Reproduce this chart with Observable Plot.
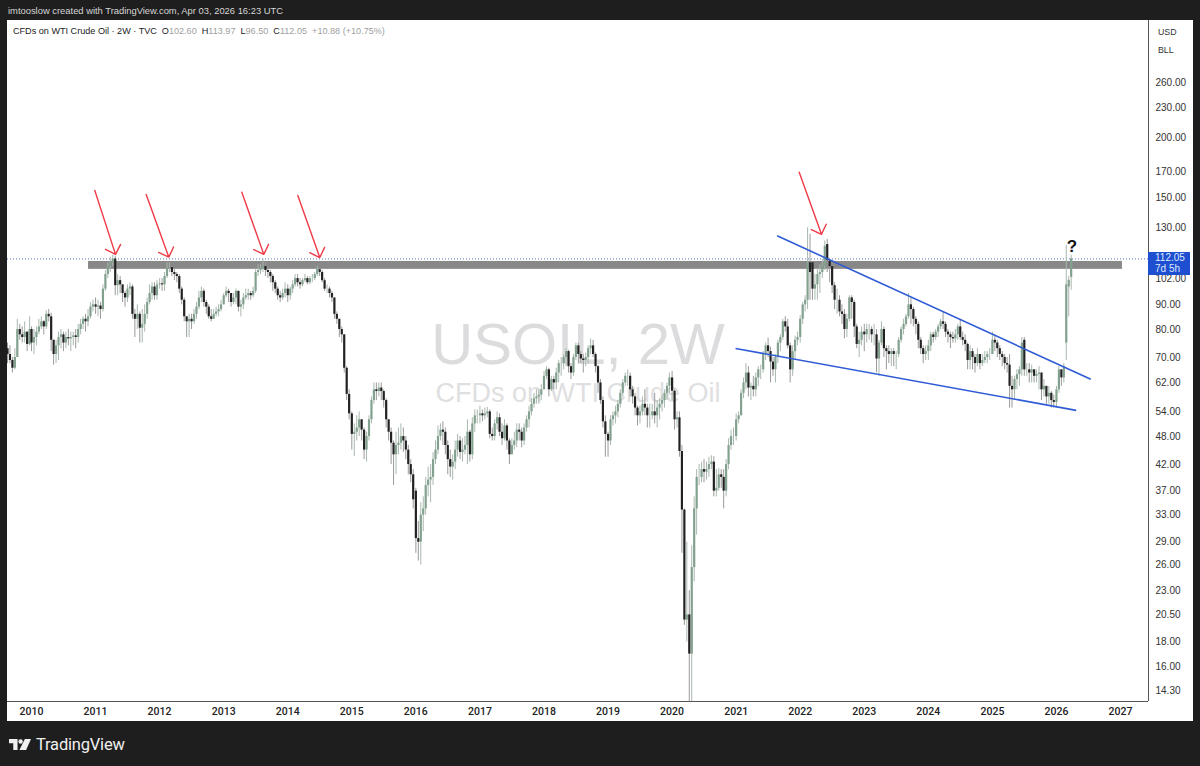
<!DOCTYPE html>
<html><head><meta charset="utf-8">
<script src="https://cdn.jsdelivr.net/npm/d3@7"></script>
<script src="https://cdn.jsdelivr.net/npm/@observablehq/plot@0.6"></script>
<style>
html,body{margin:0;padding:0;background:#1e1e1e;width:1200px;height:766px;overflow:hidden;font-family:"Liberation Sans",sans-serif}
#top{position:absolute;left:8px;top:4px;color:#d6d6d6;font-size:9.4px;line-height:14px;white-space:nowrap}
#chart{position:absolute;left:7px;top:20px;background:#fff}
#legend{position:absolute;left:13px;top:25px;font-size:9.1px;line-height:13px;color:#222;white-space:nowrap}
#legend b{font-weight:400;color:#222;margin-left:5px}#legend i{font-style:normal;color:#a0a0a0}
#unit{position:absolute;left:1158px;top:23px;font-size:8.8px;line-height:18px;color:#333}
#last{position:absolute;left:1148px;width:42px;height:23px;background:#1d4fd0;color:#dfe8ff;font-size:10px;line-height:11px;text-align:left;padding-left:7px;box-sizing:border-box}
#logo{position:absolute;left:9px;top:735px;display:flex;align-items:center;color:#f0f0f0;font-family:Roboto,sans-serif;font-size:16.5px;letter-spacing:-.2px}
</style></head><body>
<div id="top">imtooslow created with TradingView.com, Apr 03, 2026 16:23 UTC</div>
<div id="chart"></div>
<div id="legend">CFDs on WTI Crude Oil · 2W · TVC<b>O</b><i>102.60</i><b>H</b><i>113.97</i><b>L</b><i>96.50</i><b>C</b><i>112.05</i> &nbsp;<i>+10.88 (+10.75%)</i></div>
<div id="unit">USD<br>BLL</div>
<div id="logo"><svg width="22" height="13" viewBox="0 0 36 20" fill="#f0f0f0"><path d="M0 1h14v18H7V8H0z"/><circle cx="19" cy="5" r="3.6"/><path d="M26 1h10l-8 18H17z"/></svg><span style="margin-left:5px">TradingView</span></div>
<script>
// each candle: [close, high, low, open?] — open defaults to the previous close
const bars2009=[[71,75,68,73],[69,74,68],[66.5,70,65],[70,73,66],[80,84,70],[78,82,76],[77,81,75],[79,83,75],[74.5,79,72],[80,85,74]];
const bars2010=[[75,81,72],[77,80,71],[79,81,74],[81,84,78],[83,85,80],[81,83.5,78],[86,87.5,80],[85,88,83],[76,86.5,72],[71,76,67.5],[74,76,68],[77,79,69],[78,80,73],[75,79,72],[77,79,73],[76.5,80,74],[77,79,72],[77.6,79,74],[77,80,73],[80,82,75],[82,84,78],[84,85,80],[83,86,79],[85,88,81],[89,91,84],[90,92,87]];
const bars2011=[[89,93,86],[89.5,92,85],[88,91,84],[97,99,87],[104,106,96],[108,110,102],[110,113,105],[112,114,108],[98.6,113.5,94],[101,104,94],[99,103,95],[95,99,91],[93,96,89],[97,99,91],[98,100,94],[86,99,84],[84,88,77],[86,90,80],[80.5,87,75],[82,88,75],[86,90,79],[91,93,84],[95,99,90],[98,100,92],[94,100,92],[99,101,92]];
const bars2012=[[99.5,102,97],[99,102,96],[103,105,96],[107,110,102],[107.5,110,105],[105,108,103],[104,107,101],[103,105,100],[97,104,95],[92,98,90],[85,93,83],[83,85,77],[84,86,77],[83,86,80],[86,88,82],[89,91,84],[93,96,88],[96,98,91],[91,97,89],[89,92,86],[85,90,84],[84,88,83],[86,88,84],[87,89,85],[88,90,85],[90,92,87]];
const bars2013=[[94,95,90],[96,98,93],[95,97,91],[91,95,89],[93,95,90],[96,97,90],[89,96,87],[90,92,85],[93,95,88],[94,97,92],[95,97,92],[94,96,92],[96,98,93],[105,107,95],[106,109,103],[107,109,104],[108,112,105],[106,110,103],[105,108,102],[103,106,100],[100,104,96],[97,101,95],[94,98,92],[93,96,91],[95,97,92],[97,100,93]];
const bars2014=[[94,99,91],[97,98,92],[99,101,95],[102,104,98],[100,104,98],[99,102,97],[101,102,98],[102,104,100],[100,103,99],[102,103,99],[102,104,100],[104,105,101],[106.5,108,103],[105,107,103],[101,106,100],[97,102,96],[97,99,95],[95,98,93],[93,96,91],[86,93,84],[84,87,82],[80,84,77],[78,81,75],[66.5,78,65],[58.7,67,57],[53.5,60,52]];
const bars2015=[[48.5,54,45],[49,51,43.6],[50,53,47],[52,54,48],[49.5,52,47],[45,50,43],[48,49,42.5],[52,53,47],[57,58,51],[60,62,56],[59.5,62,57],[60.5,62,58],[59.5,62,57],[57,60,55],[52,57.5,50],[49,52,47],[46.5,50,42],[44,47,38],[46,49,40],[46.5,50,44],[48,51,45],[47,50,44.5],[45,48,43],[42,46,40],[40,43,38.5],[35.5,41,34]];
const bars2016=[[29.5,37.5,27.5,37],[29,32,26.5],[33,35,26],[34,36,30.5],[38,39.5,33],[39,41.5,36],[39.5,42,35],[43,44.5,38],[45,47,42],[48,50.5,44],[49.5,51,47],[49,51.5,46],[46,50,44],[43,47,40],[41.5,45,39.5],[42.5,44,39],[45,47,41],[47,48.5,43.5],[44.5,48,43],[45,47.5,42.5],[46,48,44],[49,52,42],[44,49.5,42.5],[51,52.5,43],[53,54.5,49],[53,54.5,51]];
const bars2017=[[53.5,55.5,51],[53,54.5,51.5],[53.5,55,52],[54,55.2,52.5],[48.5,54.5,47.5],[48,50,47],[51,52,47],[52.5,54,49.5],[49,53.5,48],[47.5,51,46],[50.5,52,47],[47,51,45],[44,47.5,42],[46,47.5,44],[47,49,45],[49.5,51,45.5],[49,51,47],[47,50,45.5],[50,51,46],[52,53,49],[54,55.5,50],[56,57.5,53],[57.5,59,55],[58,60,56],[58.5,60,56],[60,61.5,57]];
const bars2018=[[64,65.5,60],[66,67,63],[60,66.5,58],[63,64,59.5],[62,64,60],[65,66.5,60],[68,69,62],[68,70,64],[70,71,66],[72,73,67],[67,72.5,65],[65,68,63],[70,71,64],[74,75,69],[71,75,68],[69.5,72,68],[69,71,65],[70,71.5,67],[73,74,68],[74,76.5,71],[71,76,70],[67,71.5,65],[62,67.5,59],[57,63,56],[51.5,58,50],[48.5,53,43.5]];
const bars2019=[[47,49,43.5],[52,53,46],[53,54,50.5],[54,55.5,51],[56,57,52.5],[59,60,55],[62,63,58],[64,65,61],[64,66,61],[60,65,58],[58,61,56],[55,59,53],[53,55.5,50.5],[54,55.5,51],[56,58,53],[55,60,53],[53,56,50],[53,56,50],[54,56,52],[53,59,51],[55,57,50],[56,57.5,52],[57,58.5,54],[59,60,55],[61,62,57],[63.5,65,59]];
const bars2020=[[59.6,65.5,57],[52,60,49.5],[52.5,54,50],[44.7,54,43.5],[33.8,46,27.5],[20,34,19.5],[20.5,29,18],[17,23,13],[25.7,28.5,13,17],[34,36,24],[39.5,41,30],[39.5,42,38],[41,42.5,38.5],[40.5,43,38.5],[41,42.5,39],[42,43.5,39.5],[42.5,43.8,41],[37,43.6,36],[37.5,41,36],[40,41.2,37],[39.5,41,37.5],[37,41,34],[42,43,36],[46,47.5,41],[48,49.5,45],[48,50,46]];
const bars2021=[[52,53.5,47],[53,54,51],[59,60,53],[62,63.5,57.5],[65,68,60],[60.5,67,58],[61,62,57],[60,64,58],[63.5,65,58],[66,67,61],[66,67.5,63],[71,72,65],[74,75,69],[72,76.8,70],[68.5,73.5,62],[66,70,64],[70,71,62],[75,76,68],[77,78,72],[83,84,76],[81,85,79],[74,84,73],[66,75,62],[72,74,64],[76,77.5,69],[77,79,74]];
const bars2022=[[84,85.5,75],[90,91,82],[92,94,87],[110,130,88,92],[105,126,92],[97,110,92,110],[99,104,92],[104,107,92],[105,109,95],[108,112,102],[119,122,106],[111,123,105,120],[108,112,100],[98.6,111,95,108],[92,100,88],[92,97,86],[87,94,85],[86,90,82],[80,88,76.5],[84,86,77],[93,94,83],[91,94,84],[81,92,77],[74.5,82,73],[76,79,70],[79,81,74]];
const bars2023=[[78,82,72],[80,82,75],[80,82,76],[78,81,75],[78,82,74],[69.5,80,65],[75,76,64],[80,83,74],[73,81,70],[72,74,66],[71,74,68],[72,73,67],[71,73,67],[71,72,66],[76,77,70],[80,81,75],[82,84,78],[85,86,81],[90,95,84],[88,93,82],[84,89,81],[82,85,78],[76,83,73],[73,77,71],[71,74,68],[72,74,69]];
const bars2024=[[74,76,69],[78,79,72],[77,79,75],[79,80,76],[81,82,77],[83,84,80],[82,87,80],[79,83,77],[78,80,75],[77,79,73],[76.5,79,75],[78,80,75],[81,82,76],[77,84,76],[76,79,74],[74.5,78,72],[69,75,66],[72,74,66],[70,73,66],[68,71,65],[71,73,67],[68,71,66],[69,71,67],[70,72,68],[71,72,68],[71,73,69]];
const bars2025=[[76,79,71],[75,78,72],[73,76,70],[71,74,69],[70,72,67],[68,71,66],[67.5,70,65],[61,71,55],[60,64,55],[63,64,57],[64.5,66,60],[66,67,61],[75,77,64],[66,77,64,76],[66,68,64],[65,68,62],[66,67.5,62],[64,66,62],[64.5,66,62],[65,67,60],[60,65,57],[61,63,58],[58,61,56],[59,61,56],[57,59.5,55],[56.5,58.5,55]];
const bars2026=[[60,61,55],[66,67,59],[63.5,66,61],[67,68,62],[99,119.5,69,75],[101.17,103,85,98],[112.05,113.97,96.5,102.6]];
const yearBars=[[2009.625,bars2009],[2010,bars2010],[2011,bars2011],[2012,bars2012],[2013,bars2013],[2014,bars2014],[2015,bars2015],[2016,bars2016],[2017,bars2017],[2018,bars2018],[2019,bars2019],[2020,bars2020],[2021,bars2021],[2022,bars2022],[2023,bars2023],[2024,bars2024],[2025,bars2025],[2026,bars2026]];
const yearTicks=[2010,2011,2012,2013,2014,2015,2016,2017,2018,2019,2020,2021,2022,2023,2024,2025,2026,2027];
const priceTicks=[260,230,200,170,150,130,102,90,80,70,62,54,48,42,37,33,29,26,23,20.5,18,16,14.3];
// [year, price, year, price]
const redArrows=[[2010.988,155.3,2011.311,114.5],[2011.79,152.4,2012.143,113],[2013.283,154,2013.626,114.5],[2014.157,151.7,2014.5,112.8],[2021.984,169.5,2022.332,126]];
const trendLines=[[2021.64,125.1,2026.536,63.1],[2020.99,73.1,2026.308,54.4]];
const zone={from:2010.89,to:2027.03,low:106.6,high:110.7};
const lastPrice=112.05;

const DAY=864e5, BASE=Date.UTC(2010,0,1);
const yr=y=>new Date(BASE+(y-2010)*365.25*DAY);
let candles=[],prev=73;
for(const [start,list] of yearBars){
  list.forEach((b,i)=>{
    const open=b.length>3?b[3]:prev;
    candles.push({date:new Date(yr(start).getTime()+i*14*DAY),open,close:b[0],high:b[1],low:b[2]});
    prev=b[0];
  });
}
const up=candles.filter(d=>d.close>=d.open), down=candles.filter(d=>d.close<d.open);
const seg=a=>({x1:yr(a[0]),y1:a[1],x2:yr(a[2]),y2:a[3]});
const plot=Plot.plot({
  width:1186,height:701,marginTop:0,marginLeft:0,marginRight:45,marginBottom:20,
  style:{background:"#fff",fontFamily:"Liberation Sans, sans-serif",overflow:"visible"},
  x:{type:"utc",domain:[yr(2009.625),yr(2027.437)],label:null},
  y:{type:"log",domain:[13.56,349.5],label:null},
  marks:[
    Plot.text(["USOIL, 2W"],{frameAnchor:"middle",dy:-16,fontSize:58,fill:"#dcdcde",fontFamily:"Liberation Sans"}),
    Plot.text(["CFDs on WTI Crude Oil"],{frameAnchor:"middle",dy:32,fontSize:27,fill:"#dfdfe1",fontFamily:"Liberation Sans"}),
    Plot.ruleY([lastPrice],{stroke:"#4f78c8",strokeWidth:1,strokeDasharray:"1,2"}),
    Plot.rect([zone],{x1:d=>yr(d.from),x2:d=>yr(d.to),y1:"low",y2:"high",fill:"#888888"}),
    Plot.ruleX(up,{x:"date",y1:"low",y2:"high",stroke:"#a9b8ae",strokeWidth:1,clip:"frame"}),
    Plot.ruleX(down,{x:"date",y1:"low",y2:"high",stroke:"#9a9a9a",strokeWidth:1,clip:"frame"}),
    Plot.ruleX(up,{x:"date",y1:"open",y2:"close",stroke:"#82a18e",strokeWidth:2.2,clip:"frame"}),
    Plot.ruleX(down,{x:"date",y1:"open",y2:"close",stroke:"#222222",strokeWidth:2.2,clip:"frame"}),
    Plot.link(trendLines.map(seg),{x1:"x1",y1:"y1",x2:"x2",y2:"y2",stroke:"#2f5cd6",strokeWidth:1.6}),
    Plot.arrow(redArrows.map(seg),{x1:"x1",y1:"y1",x2:"x2",y2:"y2",stroke:"#ee3b47",strokeWidth:1.4,headLength:12,headAngle:90}),
    Plot.text(["?"],{x:yr(2026.24),y:119,fontSize:17,fontWeight:700,fill:"#111",fontFamily:"Liberation Sans"}),
    Plot.axisY(priceTicks,{anchor:"right",tickSize:0,tickPadding:7,tickFormat:d=>d.toFixed(2),fontSize:10,fill:"#333",label:null}),
    Plot.axisX(yearTicks.map(y=>new Date(Date.UTC(y,0,1))),{anchor:"bottom",tickSize:0,tickPadding:6,tickFormat:d=>String(d.getUTCFullYear()),fontSize:10.5,fontWeight:500,fill:"#222",fontFamily:"Roboto",label:null}),
    Plot.ruleX([yr(2027.437)],{stroke:"#555"}),
    Plot.ruleY([13.56],{stroke:"#555"})
  ]
});
document.getElementById("chart").appendChild(plot);
const tag=document.createElement("div");tag.id="last";
tag.style.top=(20+plot.scale("y").apply(lastPrice)-6)+"px";
tag.innerHTML="112.05<br>7d 5h";
document.body.appendChild(tag);
</script></body></html>
